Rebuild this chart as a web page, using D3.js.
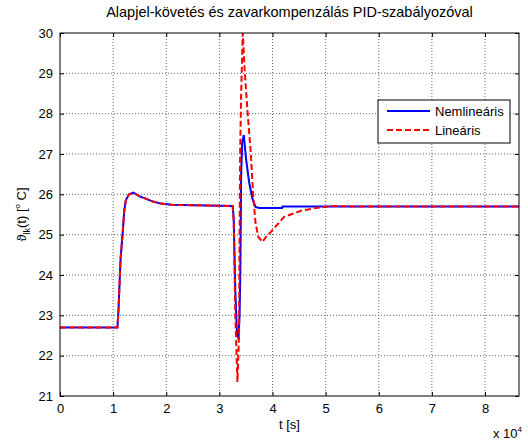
<!DOCTYPE html>
<html>
<head>
<meta charset="utf-8">
<script src="https://cdn.jsdelivr.net/npm/d3@7"></script>
<style>
  body { margin: 0; background: #fff; }
  text { font-family: "Liberation Sans", Arial, sans-serif; fill: #000; }
</style>
</head>
<body>
<div id="chart"></div>
<script>
// time [s] and temperature [C]
const tNonlin = [0, 10800, 11000, 11400, 11800, 12100, 12400, 13000, 13800, 15000, 16000, 17500, 19000, 21000, 25000, 30000, 32500,
  32700, 33000, 33300, 33600, 33800, 33950, 34100, 34300, 34600, 35000, 35600, 36200, 36800, 37500, 41800, 41900, 86400];
const yNonlin = [22.7, 22.7, 23.1, 24.4, 25.05, 25.6, 25.86, 26.0, 26.04, 25.95, 25.9, 25.82, 25.77, 25.74, 25.73, 25.72, 25.71,
  25.4, 23.6, 22.6, 22.4, 23.0, 24.1, 26.5, 27.3, 27.47, 26.9, 26.3, 25.9, 25.69, 25.66, 25.66, 25.7, 25.7];

const tLin = [0, 10800, 11000, 11400, 11800, 12100, 12400, 13000, 13800, 15000, 16000, 17500, 19000, 21000, 25000, 30000, 32500,
  32700, 33000, 33400, 33700, 33800, 33900, 34100, 34400, 34800, 35300, 35900, 36400, 36800, 37300, 38100, 38800, 39700,
  42200, 45300, 48500, 51600, 55000, 86400];
const yLin = [22.7, 22.7, 23.1, 24.4, 25.05, 25.6, 25.86, 26.0, 26.04, 25.95, 25.9, 25.82, 25.77, 25.74, 25.73, 25.72, 25.71,
  25.3, 23.0, 21.35, 22.5, 25.0, 27.0, 28.5, 30.0, 29.0, 28.05, 27.05, 25.9, 25.3, 24.95, 24.82, 24.95, 25.07,
  25.44, 25.59, 25.67, 25.71, 25.7, 25.7];

const xTicks = [0, 10000, 20000, 30000, 40000, 50000, 60000, 70000, 80000];
const yTicks = [21, 22, 23, 24, 25, 26, 27, 28, 29, 30];
const seriesNames = ["Nemlineáris", "Lineáris"];

const W = 528, H = 442;
const box = {left: 60, right: 519, top: 33, bottom: 396};
const fs = 13;

const svg = d3.select("#chart").append("svg")
  .attr("width", W).attr("height", H);

const x = d3.scaleLinear().domain([0, 86400]).range([box.left, box.right]);
const y = d3.scaleLinear().domain([21, 30]).range([box.bottom, box.top]);

// grid
svg.append("g").selectAll("line").data(xTicks.slice(1)).join("line")
  .attr("x1", d => x(d)).attr("x2", d => x(d))
  .attr("y1", box.top).attr("y2", box.bottom)
  .attr("stroke", "#666").attr("stroke-dasharray", "1,2");
svg.append("g").selectAll("line").data(yTicks.slice(1, -1)).join("line")
  .attr("x1", box.left).attr("x2", box.right)
  .attr("y1", d => y(d)).attr("y2", d => y(d))
  .attr("stroke", "#666").attr("stroke-dasharray", "1,2");

// axes (ticks inside, like matlab)
svg.append("g").attr("transform", `translate(0,${box.bottom})`)
  .call(d3.axisBottom(x).tickValues(xTicks).tickSizeInner(-4).tickSizeOuter(0).tickPadding(8).tickFormat(d => d / 1e4))
  .call(g => g.select(".domain").remove());
svg.append("g").attr("transform", `translate(0,${box.top})`)
  .call(d3.axisTop(x).tickValues(xTicks).tickSizeInner(-4).tickSizeOuter(0).tickFormat(""))
  .call(g => g.select(".domain").remove());
svg.append("g").attr("transform", `translate(${box.left},0)`)
  .call(d3.axisLeft(y).tickValues(yTicks).tickSizeInner(-4).tickSizeOuter(0).tickPadding(7).tickFormat(d3.format("d")))
  .call(g => g.select(".domain").remove());
svg.append("g").attr("transform", `translate(${box.right},0)`)
  .call(d3.axisRight(y).tickValues(yTicks).tickSizeInner(-4).tickSizeOuter(0).tickFormat(""))
  .call(g => g.select(".domain").remove());

svg.selectAll(".tick text")
  .attr("font-size", fs).attr("font-family", "Liberation Sans, Arial, sans-serif").attr("fill", "#000");
svg.selectAll(".tick line").attr("stroke", "#000");

// clip
svg.append("clipPath").attr("id", "clip")
  .append("rect").attr("x", box.left).attr("y", box.top - 1)
  .attr("width", box.right - box.left).attr("height", box.bottom - box.top + 1);

const line = d3.line().x(d => x(d[0])).y(d => y(d[1]));
const plot = svg.append("g").attr("clip-path", "url(#clip)");

plot.append("path")
  .datum(d3.zip(tNonlin, yNonlin))
  .attr("d", line)
  .attr("fill", "none").attr("stroke", "#0000ff").attr("stroke-width", 2);

plot.append("path")
  .datum(d3.zip(tLin, yLin))
  .attr("d", line)
  .attr("fill", "none").attr("stroke", "#ff0000").attr("stroke-width", 2)
  .attr("stroke-dasharray", "6,3");

// frame
svg.append("rect")
  .attr("x", box.left).attr("y", box.top)
  .attr("width", box.right - box.left).attr("height", box.bottom - box.top)
  .attr("fill", "none").attr("stroke", "#000").attr("stroke-width", 1);

// title and labels
svg.append("text")
  .attr("x", (box.left + box.right) / 2).attr("y", 17)
  .attr("text-anchor", "middle").attr("font-size", 14.5)
  .text("Alapjel-követés és zavarkompenzálás PID-szabályozóval");

svg.append("text")
  .attr("x", (box.left + box.right) / 2).attr("y", 429)
  .attr("text-anchor", "middle").attr("font-size", fs)
  .text("t [s]");

const exp = svg.append("text")
  .attr("x", 493).attr("y", 438)
  .attr("font-size", fs);
exp.append("tspan").text("x 10");
exp.append("tspan").attr("font-size", 8).attr("dy", -6).text("4");

const yl = svg.append("text")
  .attr("transform", `translate(26,${(box.top + box.bottom) / 2}) rotate(-90)`)
  .attr("text-anchor", "middle").attr("font-size", fs);
yl.append("tspan").text("ϑ");
yl.append("tspan").attr("font-size", 9).attr("dy", 4).text("lk");
yl.append("tspan").attr("dy", -4).text("(t) [");
yl.append("tspan").attr("font-size", 8).attr("dy", -6).text("o");
yl.append("tspan").attr("dy", 6).text(" C]");

// legend
const lg = svg.append("g");
lg.append("rect")
  .attr("x", 378).attr("y", 100).attr("width", 132).attr("height", 43)
  .attr("fill", "#fff").attr("stroke", "#000");
const styles = [{ c: "#0000ff", dash: null }, { c: "#ff0000", dash: "6,3" }];
seriesNames.forEach((name, i) => {
  const ly = 111 + i * 19;
  lg.append("line")
    .attr("x1", 387).attr("x2", 430).attr("y1", ly).attr("y2", ly)
    .attr("stroke", styles[i].c).attr("stroke-width", 2)
    .attr("stroke-dasharray", styles[i].dash);
  lg.append("text")
    .attr("x", 435).attr("y", ly + 4.5).attr("font-size", fs)
    .text(name);
});
</script>
</body>
</html>
